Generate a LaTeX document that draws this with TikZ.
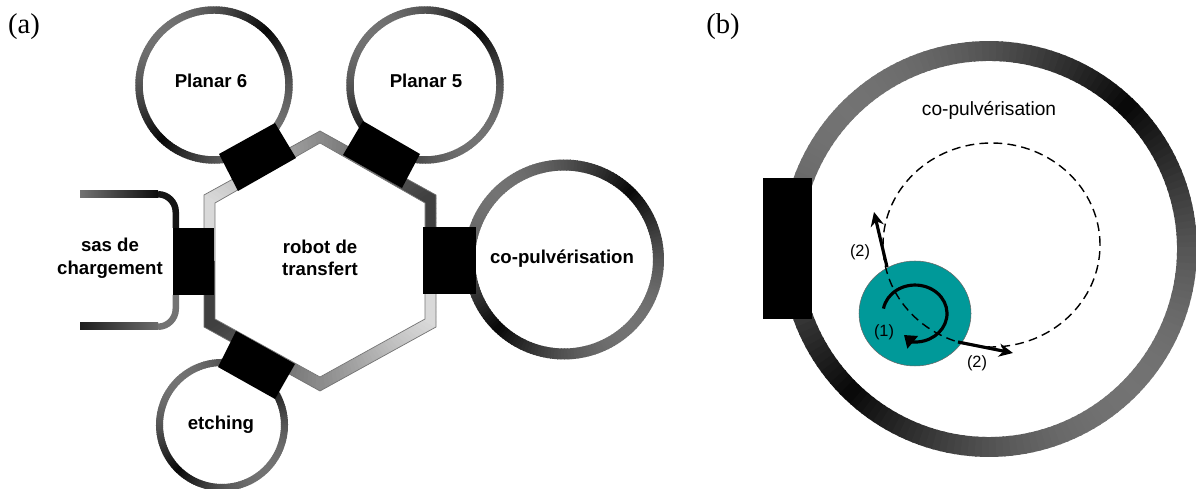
\documentclass[tikz,border=0pt]{standalone}
\usepackage{fontspec}
\setmainfont{Liberation Sans}
\newfontfamily\panelfont{Liberation Serif}
\usetikzlibrary{arrows.meta}

% Metal ring: centre x, centre y, radius, line width
\newcommand{\metalring}[4]{%
  \foreach \a in {0,2,...,358}{
    \pgfmathsetmacro{\ringshade}{97-42*abs(sin(\a-45))}
    \draw[line width=#4, black!\ringshade] (#1,#2) ++(\a:#3) arc[start angle=\a, end angle=\a+2.6, radius=#3];
  }%
}

\tikzset{
  chamber/.style={font=\fontsize{10.6}{12.8}\selectfont\bfseries, align=center},
  plainlabel/.style={font=\fontsize{10.9}{13}\selectfont},
  motion/.style={font=\fontsize{9.3}{11}\selectfont},
  panel/.style={font=\fontsize{16.3}{18}\selectfont\panelfont},
  door/.style={fill=black},
  motionarrow/.style={line width=1.8pt, -{Stealth[length=8pt, width=7.5pt]}}
}

\begin{document}
\begin{tikzpicture}[x=0.02cm, y=0.02cm]
\useasboundingbox (0,0) rectangle (1196,489);

% Panel labels
\node[panel] (panela) at (24,462) {(a)};
\node[panel] (panelb) at (723,462) {(b)};

% Draw the transfer hexagon
\begin{scope}
  \clip (320,358) -- (436,294) -- (436,162) -- (320,98) -- (204,162) -- (204,294) -- cycle;
  \foreach \a in {0,2,...,358}{
    \pgfmathsetmacro{\hexshade}{75-60*max(0,min(1,(mod(\a,180)-30)/120))}
    \fill[black!\hexshade] (320,228) -- +(\a:220) -- +(\a+2.6:220) -- cycle;
  }
\end{scope}
\draw[black!55, line width=0.4pt] (320,358) -- (436,294) -- (436,162) -- (320,98) -- (204,162) -- (204,294) -- cycle;
\draw[black!55, line width=0.4pt, fill=white] (320,346) -- (425,286) -- (425,170) -- (320,112) -- (215,170) -- (215,286) -- cycle;

% Draw the chambers around it
\metalring{214}{404}{75}{4.25pt}
\metalring{425}{404}{75}{4.25pt}
\metalring{564}{229.5}{94.5}{6.25pt}
\metalring{222}{64}{62.5}{4pt}

% Draw the open load lock
\shade[left color=black!55, right color=black!95] (80,298) rectangle (158,291.5);
\draw[line width=3.7pt, black!92] (158,294.75) arc[start angle=90, end angle=0, radius=17.75] -- (175.75,261);
\shade[left color=black!88, right color=black!58] (80,166) rectangle (158,159);
\draw[line width=3.7pt, black!55] (158,162.25) arc[start angle=-90, end angle=0, radius=17.75] -- (175.75,194);

% Draw the doors
\fill[door] (173,261) rectangle (214,194);
\fill[door] (423,262) rectangle (476,195);
\fill[door] (219,335) -- (275,366) -- (296,331) -- (238,298) -- cycle;
\fill[door] (363,368) -- (420,335) -- (402,301) -- (343,334) -- cycle;
\fill[door] (236,158) -- (295,125) -- (275,90) -- (218,122) -- cycle;

% Chamber names
\node[chamber] (planarsix) at (211,408) {Planar 6};
\node[chamber] (planarfive) at (426,408) {Planar 5};
\node[chamber] (robot) at (320,231) {robot de\\transfert};
\node[chamber] (sas) at (110,231) {sas de\\chargement};
\node[chamber] (copulv) at (562,230) {co-pulvérisation};
\node[chamber] (etching) at (221,64) {etching};

% Draw the chamber of panel (b)
\metalring{989}{240}{198}{11.35pt}
\fill[door] (763,311) rectangle (812,170);
\node[plainlabel] (copulvb) at (989,379) {co-pulvérisation};

% Draw the substrate and its orbit
\fill[draw=black!60, line width=0.3pt, fill={rgb,255:red,0;green,153;blue,153}] (915,175.5) ellipse[x radius=56, y radius=52.5];
\draw[line width=0.8pt, dash pattern=on 5pt off 3pt] (991.5,244) ellipse[x radius=108.5, y radius=102];

% Orbit and spin arrows
\coordinate (orbitA) at (887,222);
\coordinate (orbitAtip) at (874,277);
\coordinate (orbitB) at (958,147);
\coordinate (orbitBtip) at (1013,136);
\coordinate (spinstart) at (883.5,180.4);
\coordinate (spintip) at (904,154);
\draw[motionarrow] (orbitA) -- (orbitAtip);
\draw[motionarrow] (orbitB) -- (orbitBtip);
\draw[line width=1.8pt, -{Triangle[length=6.5pt, width=9pt]}] (spinstart) arc[start angle=170, end angle=-95, x radius=32, y radius=28.5] -- (spintip);

\node[motion] (labelA) at (860,237) {(2)};
\node[motion] (labelB) at (977,126) {(2)};
\node[motion] (labelC) at (884,157) {(1)};

\end{tikzpicture}
\end{document}
